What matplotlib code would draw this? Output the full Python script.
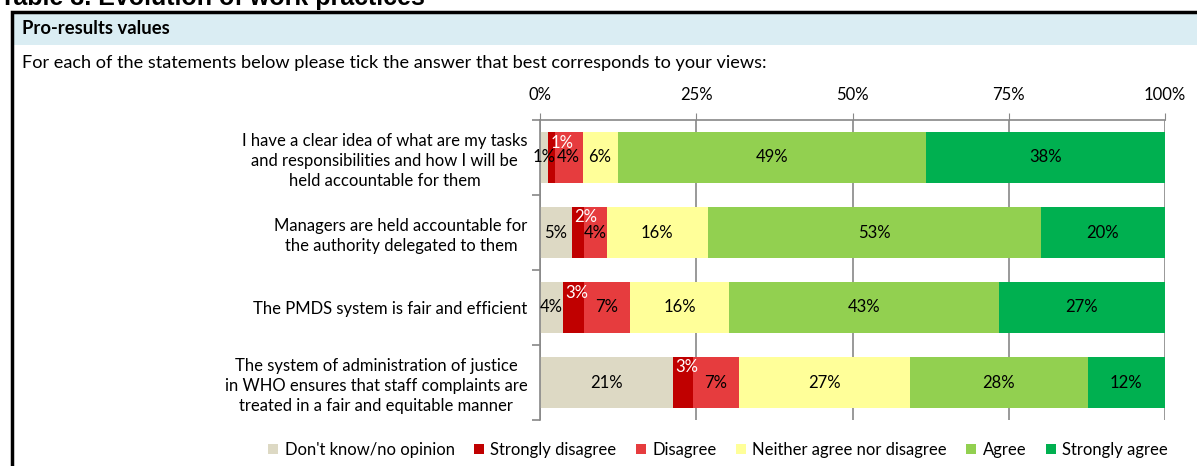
import matplotlib
matplotlib.use("Agg")
import matplotlib.pyplot as plt
from matplotlib.patches import Rectangle, Patch

plt.rcParams['font.family'] = ['Lato', 'DejaVu Sans']

statements = [
    "I have a clear idea of what are my tasks\nand responsibilities and how I will be\nheld accountable for them",
    "Managers are held accountable for\nthe authority delegated to them",
    "The PMDS system is fair and efficient",
    "The system of administration of justice\nin WHO ensures that staff complaints are\ntreated in a fair and equitable manner",
]
answers = ["Don't know/no opinion", "Strongly disagree", "Disagree",
           "Neither agree nor disagree", "Agree", "Strongly agree"]
dont_know = [1.2, 5.1, 3.6, 21.2]
strongly_disagree = [1.2, 1.9, 3.4, 3.3]
disagree = [4.4, 3.7, 7.4, 7.3]
neither = [5.6, 16.1, 15.9, 27.4]
agree = [49.4, 53.3, 43.1, 28.4]
strongly_agree = [38.2, 19.9, 26.6, 12.4]
x_ticks = [0, 25, 50, 75, 100]

colors = ["#DDD9C4", "#C00000", "#E63C3E", "#FFFF99", "#92D050", "#00B050"]
series = [dont_know, strongly_disagree, disagree, neither, agree, strongly_agree]

W, H = 1197, 466
fig = plt.figure(figsize=(W / 100, H / 100), dpi=100)

# frame, header band, texts
fig.patches.append(Rectangle((13 / W, 1 - 45 / H), 1.2, 33 / H, transform=fig.transFigure,
                             facecolor="#DAEDF3", edgecolor="none", zorder=0))
fig.patches.append(Rectangle((11.5 / W, -0.1), 1.2, 1.1 - 11.5 / H, transform=fig.transFigure,
                             facecolor="none", edgecolor="black", linewidth=2.5, zorder=1))
fig.text(0.0, 1 - 5 / H, "Table 3. Evolution of work practices", fontsize=18,
         fontweight="bold", family=["Liberation Sans", "DejaVu Sans"], va="baseline", ha="left")
fig.text(22 / W, 1 - 29 / H, "Pro-results values", fontsize=13.3, fontweight="bold",
         va="center", ha="left")
fig.text(22 / W, 1 - 63 / H, "For each of the statements below please tick the answer that best corresponds to your views:",
         fontsize=13.1, va="center", ha="left")

ax = fig.add_axes([540 / W, 1 - 420 / H, 625 / W, 300 / H])
ypos = list(range(len(statements)))
left = [0.0] * len(statements)
for k, (vals, col, name) in enumerate(zip(series, colors, answers)):
    ax.barh(ypos, vals, left=left, height=0.667, color=col, label=name, zorder=2)
    for i, v in enumerate(vals):
        if k == 1:
            # small "strongly disagree" labels sit white near the top of the bar
            ax.annotate(f"{v:.0f}%", (left[i], i - 0.2), xytext=(2, 0), textcoords="offset points",
                        ha="left", va="center", color="white", fontsize=12, zorder=4)
        else:
            ax.text(left[i] + v / 2, i, f"{v:.0f}%", ha="center", va="center",
                    color="black", fontsize=12, zorder=3)
    left = [l + v for l, v in zip(left, vals)]

ax.set_xlim(0, 100)
ax.set_ylim(len(statements) - 0.5, -0.5)
ax.set_xticks(x_ticks)
ax.set_xticklabels([f"{t}%" for t in x_ticks], fontsize=12)
ax.xaxis.tick_top()
ax.tick_params(axis="x", direction="out", length=5, color="#888888", pad=7)
ax.grid(True, axis="x", color="#888888", linewidth=1.2, zorder=0)
ax.set_axisbelow(True)

ax.set_yticks(ypos)
ax.set_yticklabels(statements, fontsize=12, multialignment="center", linespacing=1.3)
ax.set_yticks([y - 0.5 for y in range(len(statements) + 1)], minor=True)
ax.tick_params(axis="y", which="major", length=0, pad=9)
ax.tick_params(axis="y", which="minor", length=6, color="#888888", width=1.2)

for s in ["right", "bottom"]:
    ax.spines[s].set_visible(False)
for s in ["top", "left"]:
    ax.spines[s].set_color("#888888")
    ax.spines[s].set_linewidth(1.2)

handles = [Patch(facecolor=c, edgecolor="none") for c in colors]
fig.legend(handles, answers, loc="center", bbox_to_anchor=(718 / W, 1 - 450 / H), ncol=6,
           frameon=False, fontsize=12, handlelength=0.6, handleheight=0.6,
           handletextpad=0.4, columnspacing=1.15)

fig.savefig("out.png", dpi=100)
